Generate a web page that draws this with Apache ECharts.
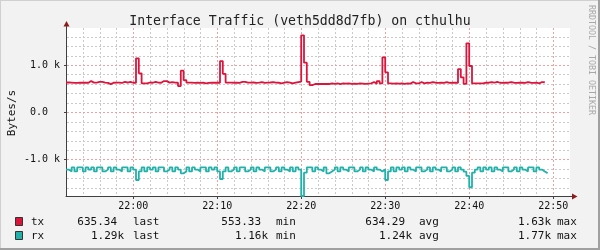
<!DOCTYPE html>
<html>
<head>
<meta charset="utf-8">
<script src="https://cdn.jsdelivr.net/npm/echarts@6/dist/echarts.min.js"></script>
<style>html,body{margin:0;padding:0;background:#f2f2f2;}#c{width:600px;height:250px;}</style>
</head>
<body>
<div id="c"></div>
<script>
// ---- data (Bytes/s, 20 s samples starting 21:52:00) ----
const startMinute = 1312; // 21:52
const tx = [
630,628,622,622,628,625,625,625,660,628,628,645,645,628,622,595,625,628,628,620,
642,630,645,625,622,1142,825,612,612,630,625,645,628,625,660,660,628,640,628,625,
555,880,680,628,628,622,625,622,628,612,622,625,625,625,625,1085,815,628,628,625,
628,622,642,642,628,628,630,622,628,640,622,628,630,640,628,625,612,625,640,628,
610,628,640,650,1630,1050,645,575,598,598,600,598,600,598,612,600,612,598,612,606,
612,600,606,600,612,606,600,606,612,640,606,660,612,1163,845,610,606,610,606,612,
600,612,606,640,612,610,640,612,625,622,640,625,622,625,622,640,622,625,625,622,
915,740,600,1460,980,610,612,612,612,625,625,640,625,645,625,622,628,625,640,625,
622,628,625,622,640,625,622,625,612,640,635
];
const rx = [
-1215,-1255,-1170,-1255,-1170,-1170,-1255,-1170,-1215,-1170,-1255,-1170,-1170,-1255,-1215,-1170,-1255,-1170,-1215,-1255,
-1170,-1170,-1255,-1170,-1215,-1436,-1255,-1170,-1255,-1170,-1215,-1170,-1255,-1170,-1170,-1255,-1215,-1170,-1255,-1170,
-1215,-1295,-1255,-1170,-1255,-1170,-1215,-1255,-1170,-1170,-1255,-1170,-1215,-1170,-1255,-1415,-1255,-1170,-1255,-1215,
-1170,-1255,-1170,-1170,-1255,-1215,-1170,-1255,-1170,-1215,-1255,-1170,-1170,-1255,-1215,-1170,-1255,-1170,-1215,-1255,
-1170,-1255,-1170,-1215,-1775,-1280,-1170,-1170,-1255,-1170,-1215,-1255,-1170,-1295,-1255,-1215,-1170,-1255,-1170,-1215,
-1255,-1170,-1170,-1255,-1215,-1170,-1255,-1170,-1215,-1255,-1170,-1215,-1255,-1215,-1436,-1255,-1170,-1255,-1170,-1215,
-1170,-1255,-1170,-1215,-1255,-1170,-1170,-1255,-1215,-1170,-1255,-1170,-1215,-1255,-1170,-1170,-1255,-1215,-1170,-1255,
-1170,-1215,-1260,-1350,-1590,-1280,-1215,-1170,-1255,-1170,-1215,-1170,-1255,-1170,-1215,-1255,-1170,-1170,-1255,-1215,
-1170,-1255,-1170,-1215,-1255,-1170,-1170,-1255,-1170,-1215,-1255,-1290
];
const xTickValues = [1320,1330,1340,1350,1360,1370];
const xTickLabels = ['22:00','22:10','22:20','22:30','22:40','22:50'];
const yTickValues = [-1000,0,1000];
const yTickLabels = ['-1.0 k','0.0','1.0 k'];
const legendNames = ['tx','rx'];
const legendLast = ['635.34','1.29k'];
const legendMin = ['553.33','1.16k'];
const legendAvg = ['634.29','1.24k'];
const legendMax = ['1.63k','1.77k'];

const TX_COLOR = '#dc143c', RX_COLOR = '#20b2aa';
const MONO = 'DejaVu Sans Mono';
const X_MIN = 1312, X_MAX = 1372, Y_MIN = -1775, Y_MAX = 1785;

function series(vals){
  const d = vals.map((v,i)=>[startMinute + i/3, v]);
  d.push([startMinute + vals.length/3, vals[vals.length-1]]);
  return d;
}

// grid lines: [orientation (0 = vertical at minute, 1 = horizontal at value), value, major?]
const gridLines = [];
for (let m = X_MIN + 2; m < X_MAX; m += 2) gridLines.push([0, m, m % 10 === 0 ? 1 : 0]);
for (let v = -1600; v <= 1600; v += 200) gridLines.push([1, v, v % 1000 === 0 ? 1 : 0]);

const chart = echarts.init(document.getElementById('c'), null, {renderer:'canvas'});

const graphics = [
  {type:'rect', shape:{x:0,y:0,width:600,height:1}, style:{fill:'#d0d0d0'}},
  {type:'rect', shape:{x:0,y:0,width:1,height:250}, style:{fill:'#d0d0d0'}},
  {type:'rect', shape:{x:0,y:248,width:600,height:2}, style:{fill:'#a0a0a0'}},
  {type:'rect', shape:{x:598,y:0,width:2,height:250}, style:{fill:'#a0a0a0'}},
  {type:'line', shape:{x1:66.5,y1:28,x2:66.5,y2:25}, style:{stroke:'#404040',lineWidth:1}},
  {type:'polygon', shape:{points:[[63.5,26.5],[69.5,26.5],[66.5,21]]}, style:{fill:'#8c1c1c'}},
  {type:'line', shape:{x1:570,y1:196.5,x2:573,y2:196.5}, style:{stroke:'#404040',lineWidth:1}},
  {type:'polygon', shape:{points:[[572,193.5],[572,199.5],[577.5,196.5]]}, style:{fill:'#8c1c1c'}},
  {type:'text', x:12, y:113, rotation:Math.PI/2,
   style:{text:'Bytes/s', font:'11px "'+MONO+'"', fill:'#111', align:'center', verticalAlign:'middle'}},
  {type:'text', x:591, y:5, rotation:-Math.PI/2,
   style:{text:'RRDTOOL / TOBI OETIKER', font:'8.3px "'+MONO+'"', fill:'#a8a8a8', align:'left', verticalAlign:'middle'}}
];

const rowY = [222, 236];
const colors = [TX_COLOR, RX_COLOR];
function valRight(base, s){ return /k$/.test(s) ? base : base - 7; }
for (let r = 0; r < 2; r++) {
  const y = rowY[r];
  graphics.push({type:'rect', shape:{x:15.5,y:y-4.5,width:7,height:8}, style:{fill:colors[r], stroke:'#333', lineWidth:1}});
  const f = '11px "'+MONO+'"';
  const txt = (x, s, align) => graphics.push({type:'text', x:x, y:y, style:{text:s, font:f, fill:'#111', align:align, verticalAlign:'middle'}});
  txt(31, legendNames[r], 'left');
  txt(valRight(124, legendLast[r]), legendLast[r], 'right');
  txt(133, 'last', 'left');
  txt(valRight(268, legendMin[r]), legendMin[r], 'right');
  txt(276, 'min', 'left');
  txt(valRight(412, legendAvg[r]), legendAvg[r], 'right');
  txt(419, 'avg', 'left');
  txt(valRight(551, legendMax[r]), legendMax[r], 'right');
  txt(557, 'max', 'left');
}

function renderGrid(params, api) {
  const kind = api.value(0), val = api.value(1), major = api.value(2);
  let p1, p2;
  if (kind === 0) {
    p1 = api.coord([val, Y_MAX]); p2 = api.coord([val, Y_MIN]);
    const x = Math.round(p1[0]) + 0.5;
    p1 = [x, p1[1]]; p2 = [x, p2[1]];
  } else {
    p1 = api.coord([X_MIN, val]); p2 = api.coord([X_MAX, val]);
    const y = Math.round(p1[1]) + 0.5;
    p1 = [p1[0] + 1, y]; p2 = [p2[0], y];
  }
  return {
    type: 'line',
    shape: {x1: p1[0], y1: p1[1], x2: p2[0], y2: p2[1]},
    style: {stroke: major ? '#f0a0a0' : '#cacaca', lineWidth: 1, lineDash: [2, 2], fill: null}
  };
}

chart.setOption({
  animation: false,
  backgroundColor: '#f2f2f2',
  title: {
    text: 'Interface Traffic (veth5dd8d7fb) on cthulhu',
    left: 'center', top: 10,
    textStyle: {fontFamily: MONO, fontSize: 13.2, fontWeight: 'normal', color: '#222'}
  },
  grid: {left: 66, top: 28, width: 504, height: 168, show: true, backgroundColor: '#ffffff', borderWidth: 0},
  xAxis: {
    type: 'value', min: X_MIN, max: X_MAX, interval: 2,
    splitLine: {show: false},
    axisLine: {show: true, onZero: false, lineStyle: {color: '#404040', width: 1}},
    axisTick: {show: true, customValues: xTickValues, length: 3, lineStyle: {color: '#404040'}},
    axisLabel: {
      customValues: xTickValues, margin: 5,
      fontFamily: MONO, fontSize: 10, color: '#111',
      formatter: v => xTickLabels[xTickValues.indexOf(v)] || ''
    }
  },
  yAxis: {
    type: 'value', min: Y_MIN, max: Y_MAX,
    splitLine: {show: false},
    axisLine: {show: true, onZero: false, lineStyle: {color: '#404040', width: 1}},
    axisTick: {show: true, customValues: yTickValues, length: 2, lineStyle: {color: '#404040'}},
    axisLabel: {
      customValues: yTickValues, margin: 6,
      fontFamily: MONO, fontSize: 10, color: '#111',
      formatter: v => {
        const s = yTickLabels[yTickValues.indexOf(v)] || '';
        return v === 0 ? '{z|' + s + '}' : s;
      },
      rich: {z: {fontFamily: MONO, fontSize: 10, color: '#111', padding: [0, 12, 0, 0]}}
    }
  },
  series: [
    {
      type: 'custom', z: 1, silent: true, clip: false,
      renderItem: renderGrid,
      encode: {x: -1, y: -1},
      data: gridLines
    },
    {
      name: 'tx', type: 'line', z: 3, step: 'end', showSymbol: false, symbol: 'none',
      data: series(tx), lineStyle: {color: TX_COLOR, width: 1.8}, itemStyle: {color: TX_COLOR}
    },
    {
      name: 'rx', type: 'line', z: 3, step: 'end', showSymbol: false, symbol: 'none',
      data: series(rx), lineStyle: {color: RX_COLOR, width: 1.8}, itemStyle: {color: RX_COLOR}
    }
  ],
  graphic: graphics
});
</script>
</body>
</html>
